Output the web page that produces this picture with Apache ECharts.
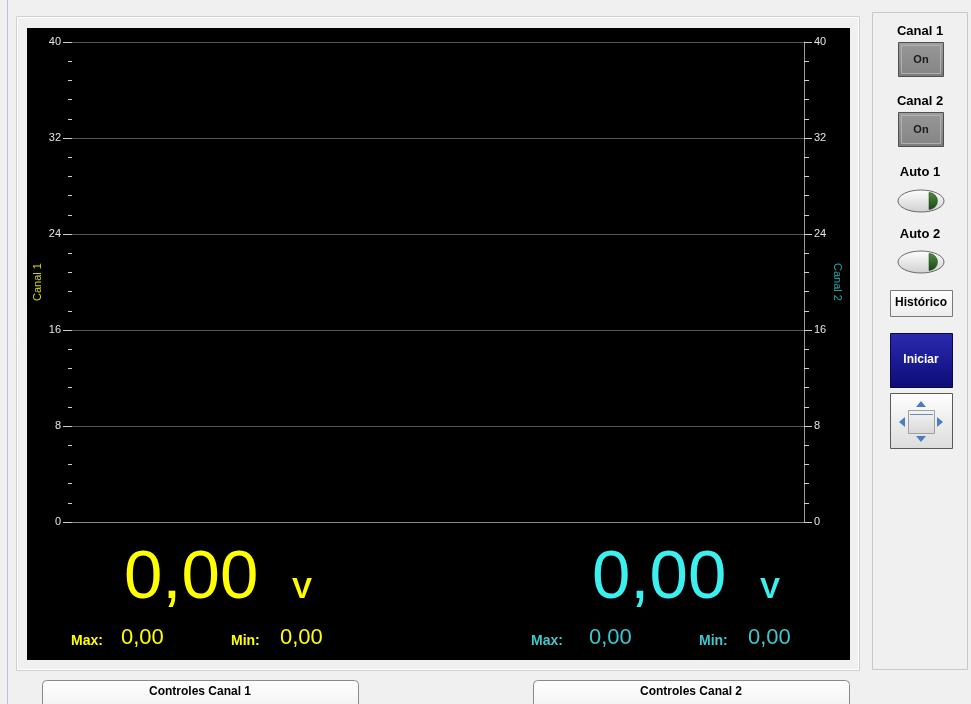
<!DOCTYPE html>
<html>
<head>
<meta charset="utf-8">
<script src="https://cdn.jsdelivr.net/npm/echarts@6/dist/echarts.min.js"></script>
<style>
html,body{margin:0;padding:0;background:#f0f0f0;}
#chart{width:971px;height:704px;}
</style>
</head>
<body>
<div id="chart"></div>
<script>
// ---- data ----
var channelNames = ['Canal 1', 'Canal 2'];
var canal1Data = [];           // no samples acquired yet
var canal2Data = [];
var yTicks = [0, 8, 16, 24, 32, 40];
var currentValues = [0.00, 0.00];
var maxValues = [0.00, 0.00];
var minValues = [0.00, 0.00];
var unitLabel = 'V';
var sideButtons = ['On', 'On'];
var autoLabels = ['Auto 1', 'Auto 2'];
var tabLabels = ['Controles Canal 1', 'Controles Canal 2'];

function fmt(v) { return v.toFixed(2).replace('.', ','); }

var FONT = '"Liberation Sans", Arial, sans-serif';
var YEL = '#ffff00';
var CYAN = '#3cf0f0';
var CYAN2 = '#3cc8cc';

function txt(x, y, s, o) {
  o = o || {};
  return {
    type: 'text', x: x, y: y, z: 20,
    style: {
      text: s, fill: o.fill || '#000',
      font: (o.weight || 'normal') + ' ' + (o.size || 12) + 'px ' + FONT,
      textAlign: o.align || 'left', align: o.align || 'left',
      textVerticalAlign: 'middle', verticalAlign: 'middle'
    }
  };
}
function rect(x, y, w, h, fill, stroke, o) {
  o = o || {};
  return {
    type: 'rect', z: o.z !== undefined ? o.z : -5,
    shape: { x: x, y: y, width: w, height: h, r: o.r || 0 },
    style: { fill: fill, stroke: stroke || null, lineWidth: o.lw || 1 }
  };
}
function vgrad(a, b) {
  return { type: 'linear', x: 0, y: 0, x2: 0, y2: 1, colorStops: [{ offset: 0, color: a }, { offset: 1, color: b }] };
}

var g = [];
// frame / panels
g.push({ type: 'line', z: -9, shape: { x1: 7.5, y1: 0, x2: 7.5, y2: 704 }, style: { stroke: '#b8c2d4', lineWidth: 1 } });
g.push(rect(16.5, 16.5, 843, 654, '#f0f0f0', '#d0d0d0', { z: -9 }));
g.push(rect(17.5, 17.5, 841, 652, null, '#ffffff', { z: -9 }));
g.push(rect(27, 28, 823, 632, '#000000', null, { z: -8 }));
g.push(rect(872.5, 12.5, 95, 657, '#f0f0f0', '#c8c8c8', { z: -9 }));

// readouts
var readX = [124, 592];
var vX = [292, 760];
var maxLX = [71, 531];
var maxVX = [121, 589];
var minLX = [231, 699];
var minVX = [280, 748];
var big = [YEL, CYAN];
var small = [YEL, CYAN2];
for (var i = 0; i < 2; i++) {
  g.push(txt(readX[i], 579, fmt(currentValues[i]), { fill: big[i], size: 69 }));
  g.push(txt(vX[i], 590, unitLabel, { fill: big[i], size: 30, weight: 'bold' }));
  g.push(txt(maxLX[i], 641, 'Max:', { fill: small[i], size: 14, weight: 'bold' }));
  g.push(txt(maxVX[i], 638, fmt(maxValues[i]), { fill: small[i], size: 22 }));
  g.push(txt(minLX[i], 641, 'Min:', { fill: small[i], size: 14, weight: 'bold' }));
  g.push(txt(minVX[i], 638, fmt(minValues[i]), { fill: small[i], size: 22 }));
}

// right panel controls
var btnY = [42, 112];
var lblY = [31, 101];
for (var j = 0; j < 2; j++) {
  g.push(txt(920, lblY[j], channelNames[j], { size: 13, weight: 'bold', align: 'center' }));
  g.push(rect(898.5, btnY[j] + 0.5, 45, 34, vgrad('#a0a0a0', '#7c7c7c'), '#505050', { z: 5 }));
  g.push(rect(901.5, btnY[j] + 3.5, 39, 28, vgrad('#969696', '#868686'), '#b0b0b0', { z: 6 }));
  g.push(txt(921, btnY[j] + 18, sideButtons[j], { size: 11, weight: 'bold', align: 'center', fill: '#1a1a1a' }));
}
var autoY = [172, 234];
var togY = [201, 262];
for (var k = 0; k < 2; k++) {
  g.push(txt(920, autoY[k], autoLabels[k], { size: 13, weight: 'bold', align: 'center' }));
  g.push({ type: 'ellipse', z: 5, shape: { cx: 921, cy: togY[k], rx: 23, ry: 11 },
    style: { fill: vgrad('#ffffff', '#d0d0d0'), stroke: '#6a6a6a', lineWidth: 1 } });
  g.push({ type: 'sector', z: 6, shape: { cx: 929, cy: togY[k], r0: 0, r: 8.5, startAngle: -Math.PI / 2, endAngle: Math.PI / 2, clockwise: true },
    style: { fill: vgrad('#4e8e3c', '#1c4818'), stroke: '#1a3a14', lineWidth: 0.5 } });
}
g.push(rect(890.5, 290.5, 62, 26, vgrad('#ffffff', '#ececec'), '#7a7a7a', { z: 5 }));
g.push(txt(921, 303, 'Histórico', { size: 12, weight: 'bold', align: 'center' }));
g.push(rect(890.5, 333.5, 62, 54, vgrad('#2a2ab0', '#0c0c78'), '#0a0a40', { z: 5 }));
g.push(txt(921, 360, 'Iniciar', { size: 12, weight: 'bold', align: 'center', fill: '#ffffff' }));
g.push(rect(890.5, 393.5, 62, 55, vgrad('#ffffff', '#dcdcdc'), '#5a5a5a', { z: 5 }));
g.push(rect(908.5, 410.5, 26, 23, vgrad('#f4f4f4', '#d8d8d8'), '#a0a0a0', { z: 6 }));
g.push({ type: 'line', z: 7, shape: { x1: 910, y1: 414.5, x2: 933, y2: 414.5 }, style: { stroke: '#6a8cc0', lineWidth: 1 } });
var triFill = '#4a7cc4';
g.push({ type: 'polygon', z: 7, shape: { points: [[921, 401], [916, 407], [926, 407]] }, style: { fill: triFill } });
g.push({ type: 'polygon', z: 7, shape: { points: [[921, 442], [916, 436], [926, 436]] }, style: { fill: triFill } });
g.push({ type: 'polygon', z: 7, shape: { points: [[899, 422], [905, 417], [905, 427]] }, style: { fill: triFill } });
g.push({ type: 'polygon', z: 7, shape: { points: [[943, 422], [937, 417], [937, 427]] }, style: { fill: triFill } });

// bottom tabs
var tabX = [42, 533];
for (var t = 0; t < 2; t++) {
  g.push(rect(tabX[t] + 0.5, 680.5, 316, 40, vgrad('#ffffff', '#ececec'), '#8a8a8a', { z: 5, r: [4, 4, 0, 0] }));
  g.push(txt(tabX[t] + 158, 692, tabLabels[t], { size: 12, weight: 'bold', align: 'center' }));
}

var chart = echarts.init(document.getElementById('chart'), null, { renderer: 'canvas' });
var labelStyle = { color: '#e4e4e4', fontSize: 11, fontFamily: FONT };
chart.setOption({
  backgroundColor: '#f0f0f0',
  animation: false,
  grid: { left: 72, right: 167, top: 42, bottom: 182, containLabel: false },
  xAxis: {
    type: 'value', min: 0, max: 100,
    axisLine: { show: true, lineStyle: { color: '#8a8a8a', width: 1 } },
    axisTick: { show: false }, axisLabel: { show: false }, splitLine: { show: false }
  },
  yAxis: [
    {
      type: 'value', position: 'left', min: 0, max: 40, interval: 8,
      name: channelNames[0], nameLocation: 'middle', nameRotate: 90, nameGap: 29,
      nameMoveOverlap: false,
      nameTextStyle: { color: '#d8d800', fontSize: 11, fontFamily: FONT },
      axisLine: { show: false },
      axisTick: { show: true, length: 9, lineStyle: { color: '#cfcfcf' } },
      minorTick: { show: true, splitNumber: 5, length: 4, lineStyle: { color: '#cfcfcf' } },
      axisLabel: Object.assign({ margin: 11 }, labelStyle),
      splitLine: { show: true, lineStyle: { color: '#555555', width: 1 } }
    },
    {
      type: 'value', position: 'right', min: 0, max: 40, interval: 8,
      name: channelNames[1], nameLocation: 'middle', nameRotate: -90, nameGap: 28,
      nameMoveOverlap: false,
      nameTextStyle: { color: '#1fa8a8', fontSize: 11, fontFamily: FONT },
      axisLine: { show: true, lineStyle: { color: '#9a9a9a', width: 1 } },
      axisTick: { show: true, length: 8, lineStyle: { color: '#cfcfcf' } },
      minorTick: { show: true, splitNumber: 5, length: 5, lineStyle: { color: '#cfcfcf' } },
      axisLabel: Object.assign({ margin: 10 }, labelStyle),
      splitLine: { show: false }
    }
  ],
  series: [
    { name: channelNames[0], type: 'line', yAxisIndex: 0, data: canal1Data, showSymbol: false, lineStyle: { color: YEL, width: 1 } },
    { name: channelNames[1], type: 'line', yAxisIndex: 1, data: canal2Data, showSymbol: false, lineStyle: { color: CYAN, width: 1 } }
  ],
  graphic: { elements: g }
});
</script>
</body>
</html>
